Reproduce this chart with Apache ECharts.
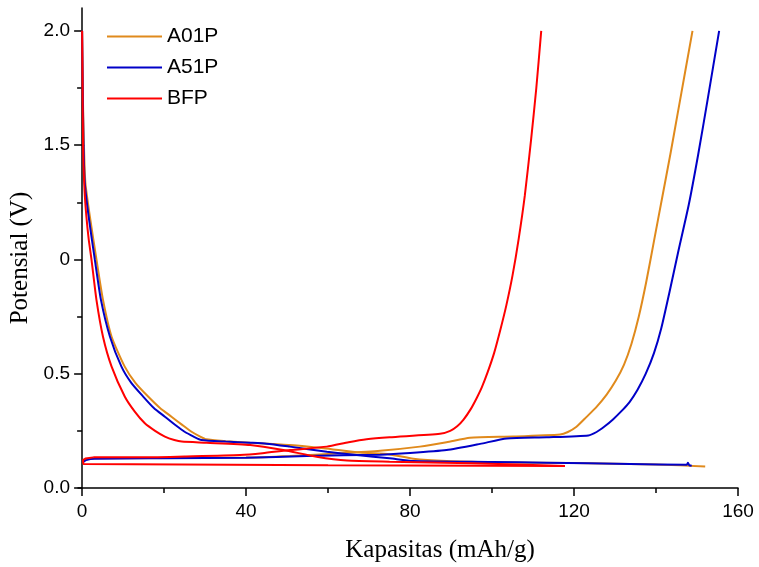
<!DOCTYPE html>
<html>
<head>
<meta charset="utf-8">
<script src="https://cdn.jsdelivr.net/npm/echarts@6/dist/echarts.min.js"></script>
<style>html,body{margin:0;padding:0;background:#fff}#c{width:759px;height:567px}</style>
</head>
<body>
<div id="c"></div>
<script>
// ---- Data (capacity mAh/g, potential V) ----
const seriesNames = ['A01P', 'A51P', 'BFP'];
const seriesColors = ['#E08A1C', '#0000C8', '#FF0000'];

const xTicks = [0, 40, 80, 120, 160];
const xMinorTicks = [20, 60, 100, 140];
const yTicks = [0, 0.5, 1, 1.5, 2];
const yMinorTicks = [0.25, 0.75, 1.25, 1.75];
const yTickLabels = ['0.0', '0.5', '0', '1.5', '2.0'];

const a01pDischarge = [
  [0, 2.0], [0.2, 1.7], [0.45, 1.5], [0.8, 1.335], [1.9, 1.187], [3.5, 1.0], [5.1, 0.823],
  [7.2, 0.662], [10.4, 0.531], [13, 0.46], [16.1, 0.40], [19, 0.35], [21.8, 0.312], [24.5, 0.275],
  [26.7, 0.246], [28.7, 0.226], [30.3, 0.213], [35, 0.205], [41, 0.198], [50.7, 0.188],
  [58.9, 0.174], [67.8, 0.155], [75, 0.147], [80.8, 0.128], [88.9, 0.118], [100, 0.113],
  [120, 0.109], [140, 0.103], [152, 0.094]
];
const a01pCharge = [
  [0.3, 0.117], [1, 0.124], [3, 0.13], [40, 0.133], [50.7, 0.14], [63, 0.152], [72.7, 0.163],
  [82.4, 0.181], [88.9, 0.2], [94.6, 0.22], [105.2, 0.225], [116.6, 0.234], [118.5, 0.245],
  [120.6, 0.268], [123, 0.31], [125.5, 0.355], [128, 0.41], [130.2, 0.47], [132.2, 0.54],
  [134, 0.63], [135.8, 0.75], [137.6, 0.9], [139.5, 1.08], [141.5, 1.27], [143.5, 1.46],
  [145.3, 1.64], [147.1, 1.82], [148.9, 2.0]
];
const a51pDischarge = [
  [0, 2.0], [0.15, 1.75], [0.35, 1.5], [0.65, 1.335], [1.6, 1.187], [3.1, 1.0], [4.6, 0.823],
  [6.8, 0.662], [9.6, 0.531], [12, 0.46], [14.9, 0.40], [17.5, 0.35], [20.2, 0.312], [23, 0.272],
  [25, 0.246], [27.2, 0.225], [29.1, 0.21], [35, 0.203], [41, 0.198], [45, 0.194], [50.7, 0.181],
  [59.7, 0.159], [67, 0.144], [75, 0.13], [80.8, 0.118], [100, 0.114], [113.3, 0.111],
  [133.7, 0.105], [147.5, 0.102], [147.8, 0.11], [148.1, 0.1], [148.7, 0.097]
];
const a51pCharge = [
  [0.3, 0.114], [1, 0.122], [3, 0.128], [20, 0.13], [40, 0.132], [54.8, 0.14], [72.7, 0.146],
  [80, 0.153], [88.9, 0.166], [97.1, 0.193], [103.6, 0.217], [113.3, 0.222], [123.5, 0.23],
  [125.5, 0.245], [127.5, 0.27], [129.5, 0.3], [131.5, 0.335], [133.5, 0.375], [135.5, 0.43],
  [137.5, 0.5], [139.5, 0.59], [141.3, 0.7], [143.2, 0.85], [145.5, 1.04], [148, 1.24],
  [150.3, 1.46], [152.6, 1.7], [155.4, 2.0]
];
const bfpDischarge = [
  [0, 2.0], [0.1, 1.8], [0.25, 1.48], [0.6, 1.3], [1.05, 1.187], [1.6, 1.09], [2.3, 0.998],
  [3.5, 0.823], [5.1, 0.662], [7.2, 0.531], [10.4, 0.40], [12.8, 0.335], [15.3, 0.283],
  [17.8, 0.25], [20.2, 0.225], [22.5, 0.21], [24.3, 0.203], [30.4, 0.198], [41, 0.188],
  [49.1, 0.166], [57.2, 0.137], [64.6, 0.12], [75, 0.115], [95, 0.108], [117.8, 0.096]
];
const bfpReturn = [
  [117.8, 0.096], [60, 0.1], [0.3, 0.105], [0, 0.11], [0.2, 0.122], [0.8, 0.129], [2.7, 0.134]
];
const bfpCharge = [
  [2.7, 0.134], [14, 0.134], [25, 0.138], [38.5, 0.144], [44, 0.152], [50.7, 0.166], [59.7, 0.181],
  [65, 0.2], [69.4, 0.213], [75, 0.222], [87.3, 0.237], [89.8, 0.25], [91.5, 0.27], [93, 0.298],
  [94.8, 0.345], [96.3, 0.395], [97.5, 0.44], [99, 0.51], [100.5, 0.59], [102, 0.69],
  [103.5, 0.8], [105, 0.93], [106.5, 1.09], [108, 1.28], [109.5, 1.52], [110.8, 1.75], [112, 2.0]
];

const curves = [
  [[a01pDischarge, true], [a01pCharge, true]],
  [[a51pDischarge, true], [a51pCharge, true]],
  [[bfpDischarge, true], [bfpReturn, false], [bfpCharge, true]]
];

const chart = echarts.init(document.getElementById('c'), null, { renderer: 'canvas' });
const labelFont = 'Liberation Sans, Arial, sans-serif';
const nameFont = 'Liberation Serif, Times New Roman, serif';

const series = [];
curves.forEach((parts, i) => {
  parts.forEach(([d, sm]) => {
    series.push({
      name: seriesNames[i],
      type: 'line',
      data: d,
      symbol: 'none',
      showSymbol: false,
      smooth: sm ? 0.2 : false,
      xAxisIndex: 0,
      yAxisIndex: 0,
      lineStyle: { color: seriesColors[i], width: 2 },
      itemStyle: { color: seriesColors[i] },
      z: 2 + i,
      animation: false
    });
  });
});

const axisLineStyle = { color: '#000', width: 1.5 };

chart.setOption({
  backgroundColor: '#fff',
  animation: false,
  grid: { left: 78, right: 21, top: 8, bottom: 79, outerBoundsMode: 'none', containLabel: false },
  legend: {
    data: seriesNames.map((n, i) => ({ name: n, icon: 'rect', itemStyle: { color: seriesColors[i] } })),
    orient: 'vertical',
    left: 102,
    top: 21,
    itemWidth: 55,
    itemHeight: 2,
    itemGap: 10,
    textStyle: { fontFamily: labelFont, fontSize: 21, color: '#000', lineHeight: 20 }
  },
  xAxis: [
    {
      type: 'value', min: -1, max: 160, position: 'bottom',
      name: 'Kapasitas (mAh/g)', nameLocation: 'middle', nameGap: 50,
      nameTextStyle: { fontFamily: nameFont, fontSize: 25, color: '#000', padding: [0, 0, 0, 64] },
      axisLine: { show: true, lineStyle: axisLineStyle },
      axisTick: { show: true, inside: false, length: 8, lineStyle: axisLineStyle, customValues: xTicks },
      axisLabel: { show: true, customValues: xTicks, margin: 14, fontFamily: labelFont, fontSize: 19, color: '#000' },
      splitLine: { show: false }
    },
    {
      type: 'value', min: -1, max: 160, position: 'bottom',
      axisLine: { show: false },
      axisTick: { show: true, inside: false, length: 5, lineStyle: axisLineStyle, customValues: xMinorTicks },
      axisLabel: { show: false },
      splitLine: { show: false }
    }
  ],
  yAxis: [
    {
      type: 'value', min: 0, max: 2.1, position: 'left',
      name: 'Potensial (V)', nameLocation: 'middle', nameGap: 43, nameRotate: 90,
      nameTextStyle: { fontFamily: nameFont, fontSize: 25, color: '#000', padding: [0, 20, 0, 0] },
      axisLine: { show: true, lineStyle: axisLineStyle },
      axisTick: { show: true, inside: false, length: 8, lineStyle: axisLineStyle, customValues: yTicks },
      axisLabel: {
        show: true, customValues: yTicks, margin: 8, fontFamily: labelFont, fontSize: 19, color: '#000',
        formatter: v => yTickLabels[yTicks.indexOf(v)]
      },
      splitLine: { show: false }
    },
    {
      type: 'value', min: 0, max: 2.1, position: 'left',
      axisLine: { show: false },
      axisTick: { show: true, inside: false, length: 5, lineStyle: axisLineStyle, customValues: yMinorTicks },
      axisLabel: { show: false },
      splitLine: { show: false }
    }
  ],
  series: series
});
</script>
</body>
</html>
